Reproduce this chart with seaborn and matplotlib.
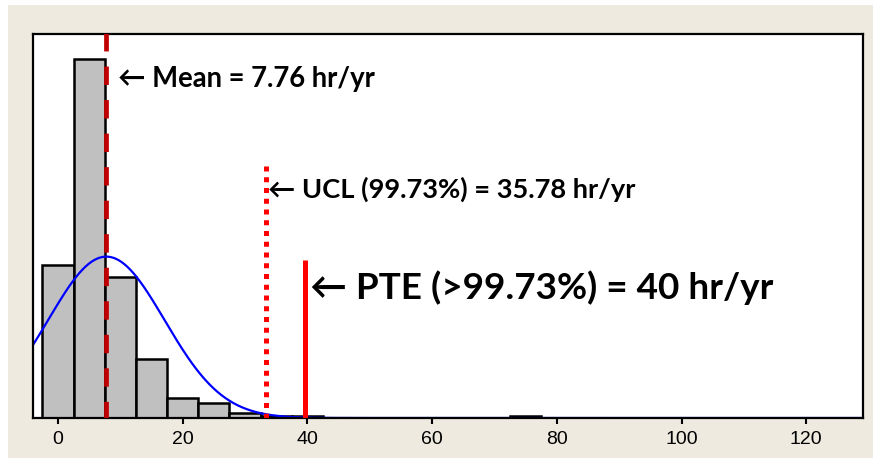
import numpy as np
import matplotlib
matplotlib.use('Agg')
import matplotlib.pyplot as plt
import seaborn as sns
from matplotlib.patches import Rectangle

# histogram counts per 5 hr/yr bin
bin_centers = [0, 5, 10, 15, 20, 25, 30, 35, 40, 45, 50, 55, 60, 65, 70, 75]
counts = [102, 239, 94, 39, 13, 10, 3, 1, 1, 0, 0, 0, 0, 0, 0, 1]
bin_width = 5

# fitted normal + reference lines
mean_val = 7.76
ucl_val = 35.78
sd_val = (ucl_val - mean_val) / 3
ucl_line_x = 33.3
pte_x = 39.6
ucl_top = 168
pte_top = 105

x_ticks = [0, 20, 40, 60, 80, 100, 120]
mean_label = '← Mean = 7.76 hr/yr'
ucl_label = '← UCL (99.73%) = 35.78 hr/yr'
pte_label = '← PTE (>99.73%) = 40 hr/yr'

sns.set_style('white')
plt.rcParams['font.family'] = ['Liberation Sans', 'DejaVu Sans']

fig = plt.figure(figsize=(8.73, 4.58), dpi=100, facecolor='white')
fig.patches.append(Rectangle((8/873, 0), 1, 1 - 5/458, transform=fig.transFigure,
                             facecolor='#EEEAE0', edgecolor='none', zorder=-10))
ax = fig.add_axes([33/873, 1 - 418/458, 830/873, 384/458])
ax.set_facecolor('white')

sns.histplot(x=bin_centers, weights=counts, binwidth=bin_width,
             binrange=(-2.5, 77.5), color='#C0C0C0', edgecolor='black',
             linewidth=1.8, alpha=1, ax=ax, zorder=1)

# normal fit scaled to counts
xs = np.linspace(-4, 129, 600)
n_tot = sum(counts)
pdf = n_tot * bin_width / (sd_val * np.sqrt(2 * np.pi)) * np.exp(-0.5 * ((xs - mean_val) / sd_val) ** 2)
sns.lineplot(x=xs, y=pdf, color='#0000FF', linewidth=1.6, ax=ax, zorder=2)

ax.plot([mean_val, mean_val], [300, 0], color='#C00000', linewidth=3.4,
        linestyle=(0, (3.9, 3.2)), zorder=3)
ax.plot([ucl_line_x, ucl_line_x], [ucl_top, 0], color='#FF0000', linewidth=3.6,
        linestyle=(0, (1.0, 1.15)), zorder=3)
ax.plot([pte_x, pte_x], [pte_top, 0], color='#FF0000', linewidth=3.6, zorder=3,
        solid_capstyle='butt')

txt = dict(fontweight='bold', family=['Lato', 'DejaVu Sans'], va='center',
           ha='left', color='black')
ax.text(9.6, 225.5, mean_label, fontsize=19.8, **txt)
ax.text(33.7, 152.5, ucl_label, fontsize=19.6, **txt)
ax.text(40.4, 86.5, pte_label, fontsize=26.6, **txt)

ax.set_xlim(-4, 129.1)
ax.set_ylim(0, 255.6)
ax.set_xticks(x_ticks)
ax.set_yticks([])
ax.set_xlabel('')
ax.set_ylabel('')
ax.tick_params(axis='x', direction='out', length=4.5, width=1.5, pad=5,
               labelsize=14, colors='black', bottom=True)
for s in ax.spines.values():
    s.set_color('black')
    s.set_linewidth(1.6)
    s.set_zorder(2.5)

fig.savefig('out.png', dpi=100, facecolor=fig.get_facecolor())
